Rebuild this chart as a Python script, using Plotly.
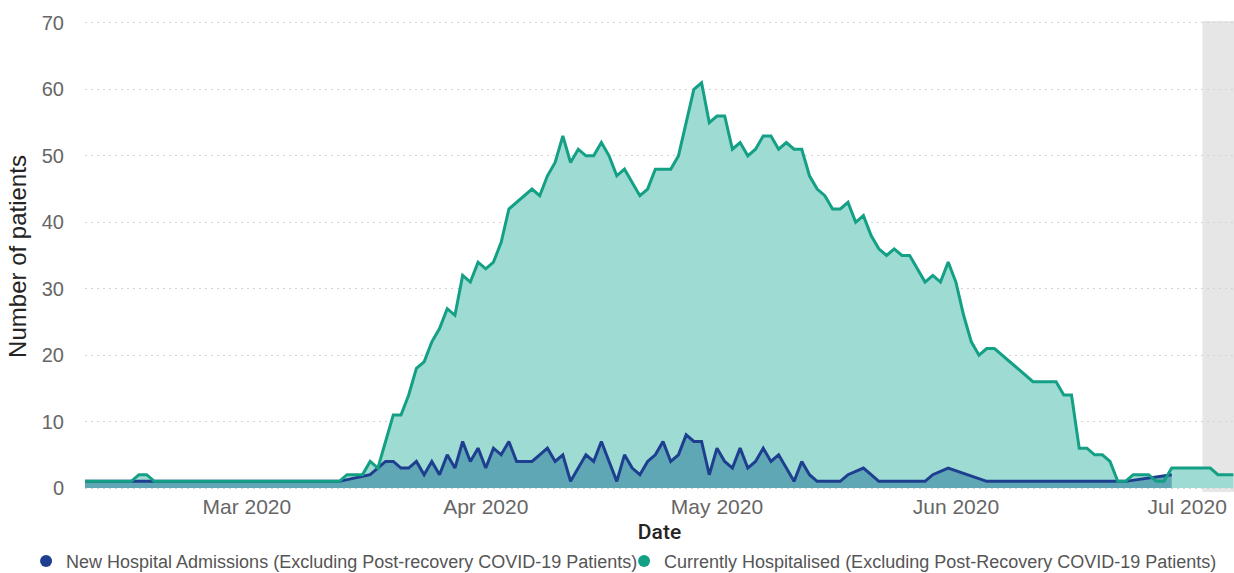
import pandas as pd
import plotly.graph_objects as go

# ---- data (daily, starting 2020-02-09) ----
start_date = "2020-02-09"

currently_hospitalised = [
    1, 1, 1, 1, 1, 1, 1,
    2, 2,
    1, 1, 1, 1, 1, 1, 1, 1, 1, 1, 1, 1, 1, 1, 1, 1, 1, 1, 1, 1, 1, 1, 1, 1, 1,
    2, 2, 2, 4, 3, 7, 11, 11, 14, 18, 19, 22, 24, 27, 26, 32, 31, 34, 33,
    34, 37, 42, 43, 44, 45, 44, 47, 49, 53, 49, 51, 50, 50, 52, 50, 47, 48, 46, 44,
    45, 48, 48, 48, 50, 55, 60, 61, 55, 56, 56, 51, 52, 50, 51, 53, 53, 51, 52, 51,
    51, 47, 45, 44, 42, 42, 43, 40, 41, 38, 36, 35, 36, 35, 35, 33, 31, 32, 31, 34,
    31, 26, 22, 20, 21, 21, 20, 19, 18, 17, 16, 16, 16, 16, 14, 14, 6, 6, 5, 5,
    4, 1, 1, 2, 2, 2, 1, 1, 3, 3, 3, 3, 3, 3, 2, 2, 2,
]

new_admissions = [
    1, 1, 1, 1, 1, 1, 1, 1, 1, 1, 1, 1, 1, 1, 1, 1, 1,
    1, 1, 1, 1, 1, 1, 1, 1, 1, 1, 1, 1, 1, 1, 1, 1, 1,
    None, None, None,
    2, 3, 4, 4, 3, 3, 4, 2, 4, 2, 5, 3, 7, 4, 6, 3,
    6, 5, 7, 4, 4, 4, 5, 6, 4, 5, 1, 3, 5, 4, 7, 4, 1, 5, 3, 2,
    4, 5, 7, 4, 5, 8, 7, 7, 2, 6, 4, 3, 6, 3, 4, 6, 4, 5, 3, 1,
    4, 2, 1, 1, 1, 1, 2, None, 3, 2, 1, 1, 1, 1, 1, 1, 1, 2, None, 3,
    None, None, None, None,
    1, 1, 1, 1, 1, 1, 1, 1, 1, 1, 1, 1, 1, 1, 1, 1, 1, 1, 1,
    None, None, None, None, None,
    2,
]

tick_dates = ["2020-03-01", "2020-04-01", "2020-05-01", "2020-06-01", "2020-07-01"]
tick_labels = ["Mar 2020", "Apr 2020", "May 2020", "Jun 2020", "Jul 2020"]
y_ticks = [0, 10, 20, 30, 40, 50, 60, 70]

name_new = "New Hospital Admissions (Excluding Post-recovery COVID-19 Patients)"
name_cur = "Currently Hospitalised (Excluding Post-Recovery COVID-19 Patients)"

dates_cur = pd.date_range(start_date, periods=len(currently_hospitalised), freq="D")
dates_new = pd.date_range(start_date, periods=len(new_admissions), freq="D")

GREEN_LINE = "#14A085"
GREEN_FILL = "#9DDBD3"
BLUE_LINE = "#1E3F8F"
BLUE_FILL = "#60A7B5"

fig = go.Figure()

# green area (fill only)
fig.add_trace(go.Scatter(
    x=dates_cur, y=currently_hospitalised, mode="lines",
    line=dict(width=0, color=GREEN_LINE), fill="tozeroy", fillcolor=GREEN_FILL,
    showlegend=False, hoverinfo="skip",
))
# blue area + line
fig.add_trace(go.Scatter(
    x=dates_new, y=new_admissions, mode="lines", connectgaps=True,
    line=dict(width=3, color=BLUE_LINE), fill="tozeroy", fillcolor=BLUE_FILL,
    showlegend=False, name=name_new,
))
# green line on top
fig.add_trace(go.Scatter(
    x=dates_cur, y=currently_hospitalised, mode="lines",
    line=dict(width=3, color=GREEN_LINE),
    showlegend=False, name=name_cur,
))
# legend entries (dot markers)
fig.add_trace(go.Scatter(
    x=[None], y=[None], mode="markers", name=name_new,
    marker=dict(symbol="circle", size=9, color=BLUE_LINE),
))
fig.add_trace(go.Scatter(
    x=[None], y=[None], mode="markers", name=name_cur,
    marker=dict(symbol="circle", size=9, color=GREEN_LINE),
))

fig.add_shape(
    type="rect", xref="x", yref="paper",
    x0="2020-07-03", x1="2020-07-08", y0=0, y1=1,
    fillcolor="#E6E6E6", line=dict(width=0), layer="below",
)

fig.update_layout(
    width=1234, height=573,
    margin=dict(l=85, r=0, t=21, b=81, autoexpand=False),
    paper_bgcolor="white", plot_bgcolor="white",
    font=dict(family="Liberation Sans, Arial, sans-serif", color="#666666"),
    showlegend=True,
    legend=dict(
        orientation="h", x=-0.0513, xanchor="left", y=-0.147, yanchor="middle",
        font=dict(size=18, color="#555555"), itemwidth=30,
        entrywidth=553, entrywidthmode="pixels",
        itemsizing="constant", bgcolor="rgba(0,0,0,0)",
    ),
    xaxis=dict(
        type="date",
        range=["2020-02-09", "2020-07-07 02:00"],
        tickvals=tick_dates, ticktext=tick_labels,
        tickfont=dict(size=21, color="#666666"),
        showgrid=False, zeroline=False, showline=False, ticks="",
        title=dict(text="Date", font=dict(family="Roboto", size=21, color="#252423", weight=500), standoff=7),
        automargin=False,
    ),
    yaxis=dict(
        range=[-0.6, 70.3],
        tickvals=y_ticks,
        tickfont=dict(size=20, color="#666666"),
        showgrid=True, gridcolor="#D2D2D2", griddash="2px,4px", gridwidth=1,
        zeroline=False, showline=False, ticks="",
        ticklabelstandoff=20,
        title=dict(text="Number of patients", font=dict(size=24, color="#252423"), standoff=8),
        automargin=False,
    ),
)

fig.write_html(
    "out.html",
    config={"displayModeBar": False},
    post_script="document.body.style.margin='0';document.body.style.overflow='hidden';",
)
